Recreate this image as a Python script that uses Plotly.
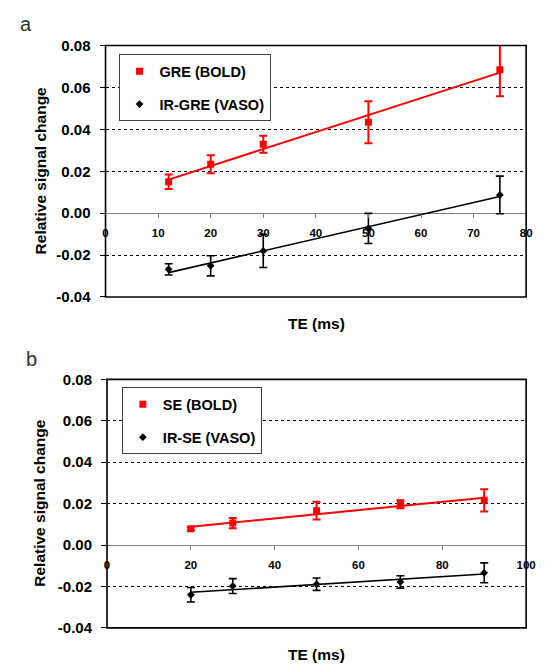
import numpy as np
import plotly.graph_objects as go

# ---------------- data ----------------
te_a = [12, 20, 30, 50, 75]
gre_bold = [0.0150, 0.0233, 0.0329, 0.0434, 0.0684]
gre_bold_err = [0.0035, 0.0043, 0.0041, 0.0100, 0.0126]
irgre_vaso = [-0.0268, -0.0251, -0.0180, -0.0073, 0.0087]
irgre_vaso_err = [0.0027, 0.0048, 0.0079, 0.0072, 0.0090]

te_b = [20, 30, 50, 70, 90]
se_bold = [0.0079, 0.0106, 0.0166, 0.0197, 0.0216]
se_bold_err = [0.0008, 0.0025, 0.0043, 0.0019, 0.0054]
irse_vaso = [-0.0240, -0.0198, -0.0189, -0.0178, -0.0134]
irse_vaso_err = [0.0035, 0.0036, 0.0030, 0.0030, 0.0048]

y_ticks = [-0.04, -0.02, 0.00, 0.02, 0.04, 0.06, 0.08]
x_ticks_a = [0, 10, 20, 30, 40, 50, 60, 70, 80]
x_ticks_b = [0, 20, 40, 60, 80, 100]

names_a = ["GRE (BOLD)", "IR-GRE (VASO)"]
names_b = ["SE (BOLD)", "IR-SE (VASO)"]

W, H = 555, 670
FONT = "Liberation Sans, Arial, sans-serif"
RED = "#ff0000"
BLK = "#000000"

fig = go.Figure()


def fit(x, y):
    p = np.polyfit(x, y, 1)
    xs = [min(x), max(x)]
    return xs, [p[0] * v + p[1] for v in xs]


def add_panel(xs, ys1, e1, ys2, e2, names, xa, ya, leg):
    fx, fy = fit(xs, ys1)
    fig.add_trace(go.Scatter(x=fx, y=fy, mode="lines", line=dict(color=RED, width=2),
                             showlegend=False, xaxis=xa, yaxis=ya, hoverinfo="skip"))
    fx, fy = fit(xs, ys2)
    fig.add_trace(go.Scatter(x=fx, y=fy, mode="lines", line=dict(color=BLK, width=1.6),
                             showlegend=False, xaxis=xa, yaxis=ya, hoverinfo="skip"))
    fig.add_trace(go.Scatter(x=xs, y=ys1, mode="markers", name=names[0],
                             marker=dict(symbol="square", size=7, color=RED),
                             error_y=dict(type="data", array=e1, color=RED, thickness=2, width=4),
                             xaxis=xa, yaxis=ya, legend=leg, legendgroup=leg + "1"))
    fig.add_trace(go.Scatter(x=xs, y=ys2, mode="markers", name=names[1],
                             marker=dict(symbol="diamond", size=6, color=BLK),
                             error_y=dict(type="data", array=e2, color=BLK, thickness=1.6, width=4),
                             xaxis=xa, yaxis=ya, legend=leg, legendgroup=leg + "2"))


add_panel(te_a, gre_bold, gre_bold_err, irgre_vaso, irgre_vaso_err, names_a, "x", "y", "legend")
add_panel(te_b, se_bold, se_bold_err, irse_vaso, irse_vaso_err, names_b, "x2", "y2", "legend2")

# domains in paper coords
dom_a_x = [105 / W, 535.7 / W]
dom_a_y = [1 - 295.5 / H, 1 - 37.5 / H]
dom_b_x = [106.5 / W, 535.7 / W]
dom_b_y = [1 - 635 / H, 1 - 380 / H]

yr = [-0.04, 0.08]


def zero_pos(dom):
    return dom[0] + (0 - yr[0]) / (yr[1] - yr[0]) * (dom[1] - dom[0])


tick_font_y = dict(family=FONT, size=15, color=BLK, weight="bold")
tick_font_x = dict(family=FONT, size=11.5, color=BLK, weight="bold")


def xaxis(dom, ydom, rng, ticks):
    return dict(domain=dom, range=rng, anchor="free", position=zero_pos(ydom),
                tickvals=ticks, ticktext=[str(t) for t in ticks],
                showgrid=False, zeroline=False, showline=False,
                ticks="outside", ticklen=4, tickcolor="#808080", tickwidth=1,
                tickfont=tick_font_x, ticklabelstandoff=5, fixedrange=True)


def yaxis(dom, anchor):
    return dict(domain=dom, range=yr, anchor=anchor, tickvals=y_ticks,
                ticktext=["%.2f" % t for t in y_ticks],
                showgrid=True, gridcolor="#000000", gridwidth=1, griddash="3px,3px",
                zeroline=True, zerolinecolor="#808080", zerolinewidth=1.2,
                showline=False, ticks="outside", ticklen=5, tickcolor=BLK,
                tickfont=tick_font_y, ticklabelstandoff=6, fixedrange=True)


legend_style = dict(font=dict(family=FONT, size=14.5, color=BLK, weight="bold"),
                    bordercolor="#404040", borderwidth=1, bgcolor="#ffffff",
                    xanchor="left", yanchor="top", tracegroupgap=11,
                    itemsizing="trace")

fig.update_layout(
    width=W, height=H,
    margin=dict(l=0, r=0, t=0, b=0),
    paper_bgcolor="#ffffff", plot_bgcolor="#ffffff",
    xaxis=xaxis(dom_a_x, dom_a_y, [0, 80], x_ticks_a),
    yaxis=yaxis(dom_a_y, "x"),
    xaxis2=xaxis(dom_b_x, dom_b_y, [0, 100], x_ticks_b),
    yaxis2=yaxis(dom_b_y, "x2"),
    legend=dict(x=118.3 / W, y=1 - 46.5 / H, **legend_style),
    legend2=dict(x=121.7 / W, y=1 - 388.3 / H, **legend_style),
    showlegend=True,
)

# plot-area boxes
for xr, yrf in [("x domain", "y domain"), ("x2 domain", "y2 domain")]:
    fig.add_shape(type="rect", xref=xr, yref=yrf, x0=0, x1=1, y0=0, y1=1,
                  line=dict(color=BLK, width=1.6), layer="above")

title_font = dict(family=FONT, size=15.5, color=BLK, weight="bold")
ann = [
    dict(text="Relative signal change", x=38 / W, y=(dom_a_y[0] + dom_a_y[1]) / 2, textangle=-90),
    dict(text="Relative signal change", x=38 / W, y=(dom_b_y[0] + dom_b_y[1]) / 2, textangle=-90),
    dict(text="TE (ms)", x=321 / W, y=1 - 322.7 / H),
    dict(text="TE (ms)", x=321 / W, y=1 - 662.3 / H),
]
for a in ann:
    fig.add_annotation(xref="paper", yref="paper", showarrow=False,
                       xanchor="center", yanchor="middle", font=title_font, **a)

for txt, px, py in [("a", 23.3, 15), ("b", 29, 359)]:
    fig.add_annotation(text=txt, xref="paper", yref="paper", x=px / W, y=1 - py / H,
                       showarrow=False, xanchor="center", yanchor="middle",
                       font=dict(family=FONT, size=20, color="#333333"))

fig.write_html("out.html", config={"displayModeBar": False},
               post_script="document.documentElement.style.margin='0';"
                           "document.body.style.margin='0';"
                           "document.body.style.padding='0';"
                           "document.body.style.overflow='hidden';")
